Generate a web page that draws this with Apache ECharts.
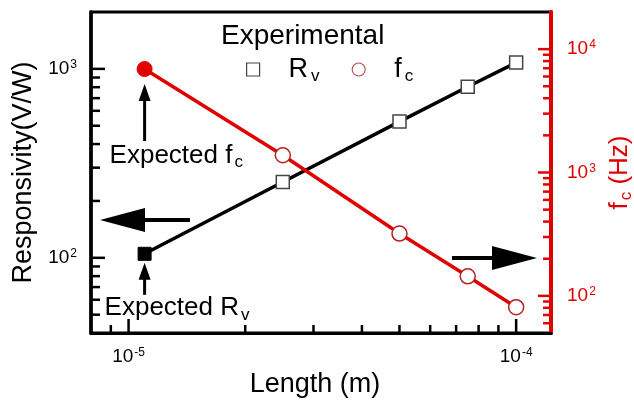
<!DOCTYPE html>
<html><head><meta charset="utf-8">
<script src="https://cdn.jsdelivr.net/npm/echarts@6/dist/echarts.min.js"></script>
<style>html,body{margin:0;padding:0;background:#fff}#c{width:634px;height:401px}</style>
</head><body><div id="c"></div>
<script>
// ---- data ----
const lengths = [2.5e-5, 5e-5, 7.5e-5, 1e-4];
const rvValues = [252, 526, 804, 1080];
const fcValues = [1380, 320, 144, 81];
const expectedLength = 1.1e-5;
const expectedRv = 105;
const expectedFc = 6900;
const xMajorTicks = [1e-5, 1e-4];
const xMinorTicks = [9e-6, 2e-5, 3e-5, 4e-5, 5e-5, 6e-5, 7e-5, 8e-5, 9e-5];
const leftMajorTicks = [100, 1000];
const leftMinorTicks = [50, 60, 70, 80, 90, 200, 300, 400, 500, 600, 700, 800, 900];
const rightMajorTicks = [100, 1000, 10000];
const rightMinorTicks = [60, 70, 80, 90, 200, 300, 400, 500, 600, 700, 800, 900, 2000, 3000, 4000, 5000, 6000, 7000, 8000, 9000];
const X_MIN = 8e-6, X_MAX = 1.23e-4, L_MIN = 40, L_MAX = 2000, R_MIN = 50, R_MAX = 20000;

const FF = '"Liberation Sans", Arial, sans-serif';
const RED = '#e00000';
const chart = echarts.init(document.getElementById('c'), null, {renderer: 'canvas'});

function expLabel(v) {
  const e = Math.log10(v);
  if (Math.abs(e - Math.round(e)) > 1e-6) return '';
  return '{num|10}{sup|' + Math.round(e) + '}';
}
function labelStyle(color, margin) {
  return {
    formatter: expLabel, margin: margin, showMinLabel: false, showMaxLabel: false,
    fontSize: 19, fontFamily: FF, color: color, hideOverlap: false,
    rich: {
      num: {fontSize: 19, fontFamily: FF, color: color},
      sup: {fontSize: 12, fontFamily: FF, color: color, verticalAlign: 'top', padding: [0, 0, 8, 1]}
    }
  };
}
function tickSeries(yIdx, data, dir, color) {
  return {
    type: 'custom', yAxisIndex: yIdx, silent: true, z: 5, clip: false,
    data: data,
    renderItem: function (params, api) {
      const p = api.coord([api.value(0), api.value(1)]);
      const len = api.value(2);
      let x2 = p[0], y2 = p[1];
      if (dir === 'up') y2 -= len; else if (dir === 'right') x2 += len; else x2 -= len;
      return {type: 'line', shape: {x1: p[0], y1: p[1], x2: x2, y2: y2}, style: {stroke: color, lineWidth: 2.5}};
    }
  };
}

const rvData = [{value: [expectedLength, expectedRv], symbol: 'rect', symbolSize: 13,
  itemStyle: {color: '#000', borderColor: '#000', borderWidth: 1}}]
  .concat(lengths.map((x, i) => [x, rvValues[i]]));
const fcData = [{value: [expectedLength, expectedFc], symbol: 'circle', symbolSize: 15,
  itemStyle: {color: RED, borderColor: RED, borderWidth: 1}}]
  .concat(lengths.map((x, i) => [x, fcValues[i]]));

const option = {
  animation: false,
  backgroundColor: '#fff',
  grid: {left: 91, right: 83, top: 12, bottom: 68, show: true, borderColor: '#000', borderWidth: 3, containLabel: false, outerBoundsMode: 'none'},
  title: {text: 'Experimental', left: 221, top: 22, padding: 0,
    textStyle: {fontSize: 28, fontWeight: 'normal', fontFamily: FF, color: '#000'}},
  legend: {
    left: 246, top: 56, itemWidth: 13, itemHeight: 13, itemGap: 32, padding: 0,
    data: [
      {name: 'Rv', icon: 'rect', itemStyle: {color: '#fff', borderColor: '#444', borderWidth: 1.2}},
      {name: 'fc', icon: 'circle', itemStyle: {color: '#fff', borderColor: '#c05050', borderWidth: 1.2}}
    ],
    formatter: n => n === 'Rv' ? '{m|R}{s|v}' : '{m|f}{s|c}',
    textStyle: {padding: [0, 0, 0, 24], rich: {
      m: {fontSize: 27, fontFamily: FF, color: '#000'},
      s: {fontSize: 17, fontFamily: FF, color: '#000', verticalAlign: 'bottom', padding: [14, 0, 0, 3]}
    }}
  },
  xAxis: {
    type: 'log', logBase: 10, min: X_MIN, max: X_MAX, position: 'bottom',
    axisLine: {lineStyle: {color: '#000', width: 3}},
    axisTick: {show: false}, splitLine: {show: false}, minorTick: {show: false},
    axisLabel: labelStyle('#000', 14),
    name: 'Length (m)', nameLocation: 'middle', nameGap: 38,
    nameTextStyle: {fontSize: 27, fontFamily: FF, color: '#000', padding: [0, 12, 0, 0]}
  },
  yAxis: [
    {
      type: 'log', logBase: 10, min: L_MIN, max: L_MAX, position: 'left',
      axisLine: {lineStyle: {color: '#000', width: 3.5}},
      axisTick: {show: false}, splitLine: {show: false}, minorTick: {show: false},
      axisLabel: labelStyle('#000', 14),
      name: 'Responsivity(V/W)', nameLocation: 'middle', nameGap: 52, nameRotate: 90,
      nameTextStyle: {fontSize: 27, fontFamily: FF, color: '#000'}
    },
    {
      type: 'log', logBase: 10, min: R_MIN, max: R_MAX, position: 'right',
      axisLine: {lineStyle: {color: RED, width: 4}},
      axisTick: {show: false}, splitLine: {show: false}, minorTick: {show: false},
      axisLabel: labelStyle(RED, 16),
      name: '{m|f}{s|c}{m| (Hz)}', nameLocation: 'middle', nameGap: 50, nameRotate: 90,
      nameTextStyle: {fontFamily: FF, color: RED, rich: {
        m: {fontSize: 26, fontFamily: FF, color: RED},
        s: {fontSize: 17, fontFamily: FF, color: RED, verticalAlign: 'bottom', padding: [14, 0, 0, 2]}
      }}
    }
  ],
  series: [
    {name: 'Rv', type: 'line', yAxisIndex: 0, data: rvData, symbol: 'rect', symbolSize: 13, z: 3,
      lineStyle: {color: '#000', width: 3.5},
      itemStyle: {color: '#fff', borderColor: '#444', borderWidth: 1.5}},
    {name: 'fc', type: 'line', yAxisIndex: 1, data: fcData, symbol: 'circle', symbolSize: 15, z: 3,
      lineStyle: {color: RED, width: 3.5},
      itemStyle: {color: '#fff', borderColor: '#b52020', borderWidth: 1.5}},
    tickSeries(0, xMajorTicks.map(v => [v, L_MIN, 14]).concat(xMinorTicks.map(v => [v, L_MIN, 8])), 'up', '#000'),
    tickSeries(0, leftMajorTicks.map(v => [X_MIN, v, 14]).concat(leftMinorTicks.map(v => [X_MIN, v, 9])), 'right', '#000'),
    tickSeries(1, rightMajorTicks.map(v => [X_MAX, v, 13]).concat(rightMinorTicks.map(v => [X_MAX, v, 8])), 'left', RED)
  ]
};
chart.setOption(option);

// ---- annotations anchored on the expected points ----
const pFc = chart.convertToPixel({xAxisIndex: 0, yAxisIndex: 1}, [expectedLength, expectedFc]);
const pRv = chart.convertToPixel({xAxisIndex: 0, yAxisIndex: 0}, [expectedLength, expectedRv]);

function vArrowUp(x, tipY, headLen, halfW, bottomY) {
  return [
    {type: 'polygon', shape: {points: [[x, tipY], [x - halfW, tipY + headLen], [x + halfW, tipY + headLen]]}, style: {fill: '#000'}, z: 10},
    {type: 'line', shape: {x1: x, y1: tipY + headLen - 1, x2: x, y2: bottomY}, style: {stroke: '#000', lineWidth: 3}, z: 10}
  ];
}
function hArrow(tailX, tipX, y, headLen, halfH) {
  const d = tipX > tailX ? 1 : -1;
  const baseX = tipX - d * headLen;
  return [
    {type: 'polygon', shape: {points: [[tipX, y], [baseX, y - halfH], [baseX, y + halfH]]}, style: {fill: '#000'}, z: 10},
    {type: 'line', shape: {x1: tailX, y1: y, x2: baseX, y2: y}, style: {stroke: '#000', lineWidth: 4}, z: 10}
  ];
}
const annRich = {
  m: {fontSize: 26, fontFamily: FF, color: '#000'},
  s: {fontSize: 17, fontFamily: FF, color: '#000', verticalAlign: 'bottom', padding: [14, 0, 0, 2]}
};
const graphics = []
  .concat(vArrowUp(pFc[0], pFc[1] + 15, 17, 6, pFc[1] + 72))
  .concat(vArrowUp(pRv[0], pRv[1] + 9, 17, 6, pRv[1] + 41))
  .concat(hArrow(190, 100, 220, 45, 12))
  .concat(hArrow(452, 537, 258, 45, 12))
  .concat([
    {type: 'text', x: pFc[0] - 35, y: pFc[1] + 71, z: 10,
      style: {text: '{m|Expected f}{s|c}', rich: annRich, verticalAlign: 'top'}},
    {type: 'text', x: pRv[0] - 40, y: pRv[1] + 39, z: 10,
      style: {text: '{m|Expected R}{s|v}', rich: annRich, verticalAlign: 'top'}}
  ]);
chart.setOption({graphic: graphics});
</script>
</body></html>
